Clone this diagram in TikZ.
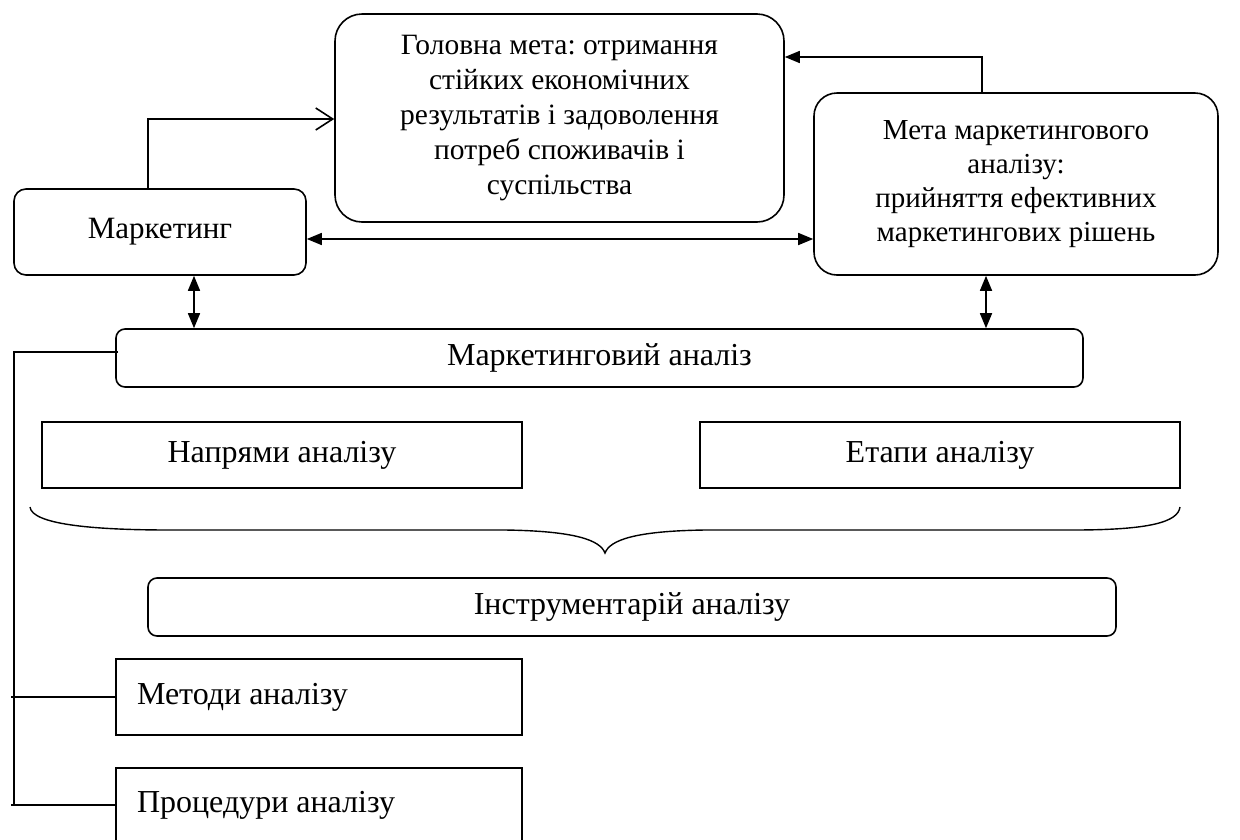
\documentclass[tikz,border=0pt]{standalone}
\usepackage{fontspec}
\setmainfont{Liberation Serif}
\usetikzlibrary{arrows.meta}
\frenchspacing
\begin{document}
\begin{tikzpicture}[x=1pt,y=-1pt,
  lw/.style={line width=1.6pt},
  box/.style={draw, lw, inner sep=0pt, align=center, font=\fontsize{32}{36}\selectfont},
  rbox/.style={box, rounded corners=#1},
  lbox/.style={draw, lw, inner sep=0pt, font=\fontsize{32}{36}\selectfont},
  conn/.style={lw},
  filled/.style={lw, -{Triangle[length=15pt,width=12pt]}},
  dfilled/.style={lw, {Triangle[length=15pt,width=12pt]}-{Triangle[length=15pt,width=12pt]}},
  openarr/.style={lw, -{Straight Barb[length=17pt,width=22pt]}}
]
\useasboundingbox (0,0) rectangle (1240,839);
\clip (0,0) rectangle (1240,839);

\node[rbox=27pt, minimum width=449pt, minimum height=208pt, font=\fontsize{29.5}{35}\selectfont\frenchspacing] (goal) at (559.5,118)
  {Головна мета: отримання\\стійких економічних\\результатів і задоволення\\потреб споживачів і\\суспільства};
\node[rbox=23pt, minimum width=404pt, minimum height=182pt, font=\fontsize{29}{34}\selectfont\frenchspacing] (meta) at (1016,184)
  {Мета маркетингового\\аналізу:\\прийняття ефективних\\маркетингових рішень};
\node[rbox=12pt, minimum width=292pt, minimum height=86pt, font=\fontsize{31}{36}\selectfont] (mark) at (160,232) {Маркетинг};
\node[rbox=9pt, minimum width=967pt, minimum height=58pt] (ma) at (599.5,358) {Маркетинговий аналіз};
\node[box, minimum width=480pt, minimum height=66pt] (dir) at (282,455) {Напрями аналізу};
\node[box, minimum width=480pt, minimum height=66pt] (stage) at (940,455) {Етапи аналізу};
\node[rbox=9pt, minimum width=968pt, minimum height=58pt] (tool) at (632,607) {Інструментарій аналізу};
\node[lbox, minimum width=406pt, minimum height=76pt] (meth) at (319,697) {\makebox[364pt][l]{Методи аналізу}};
\node[lbox, minimum width=406pt, minimum height=74pt] (proc) at (319,805) {\makebox[364pt][l]{Процедури аналізу}};

% arrows
\draw[openarr] ([xshift=-12pt]mark.north) |- ([yshift=-1pt]goal.west);
\draw[filled] ([xshift=-34pt]meta.north) |- ([yshift=61pt]goal.east);
\coordinate (hy) at (560,239);
\draw[dfilled] (mark.east |- hy) -- (meta.west |- hy);
\draw[dfilled] ([xshift=34pt]mark.south) -- ([xshift=34pt]mark.south |- ma.north);
\draw[dfilled] ([xshift=-30pt]meta.south) -- ([xshift=-30pt]meta.south |- ma.north);

% left bus
\coordinate (bus) at (14,352);
\draw[conn] ([xshift=3pt]ma.west |- bus) -- (bus) -- (bus |- proc.west);
\draw[conn] ([xshift=-3pt]bus |- meth.west) -- (meth.west);
\draw[conn] ([xshift=-3pt]bus |- proc.west) -- (proc.west);

% brace
\draw[lw, line width=1.4pt] (30,507) .. controls (32,524) and (90,530) .. (170,530) -- (505,530)
  .. controls (575,531) and (600,540) .. (605,553)
  .. controls (610,540) and (635,531) .. (705,530) -- (1073,530)
  .. controls (1150,530) and (1178,522) .. (1180,507);
\end{tikzpicture}
\end{document}
